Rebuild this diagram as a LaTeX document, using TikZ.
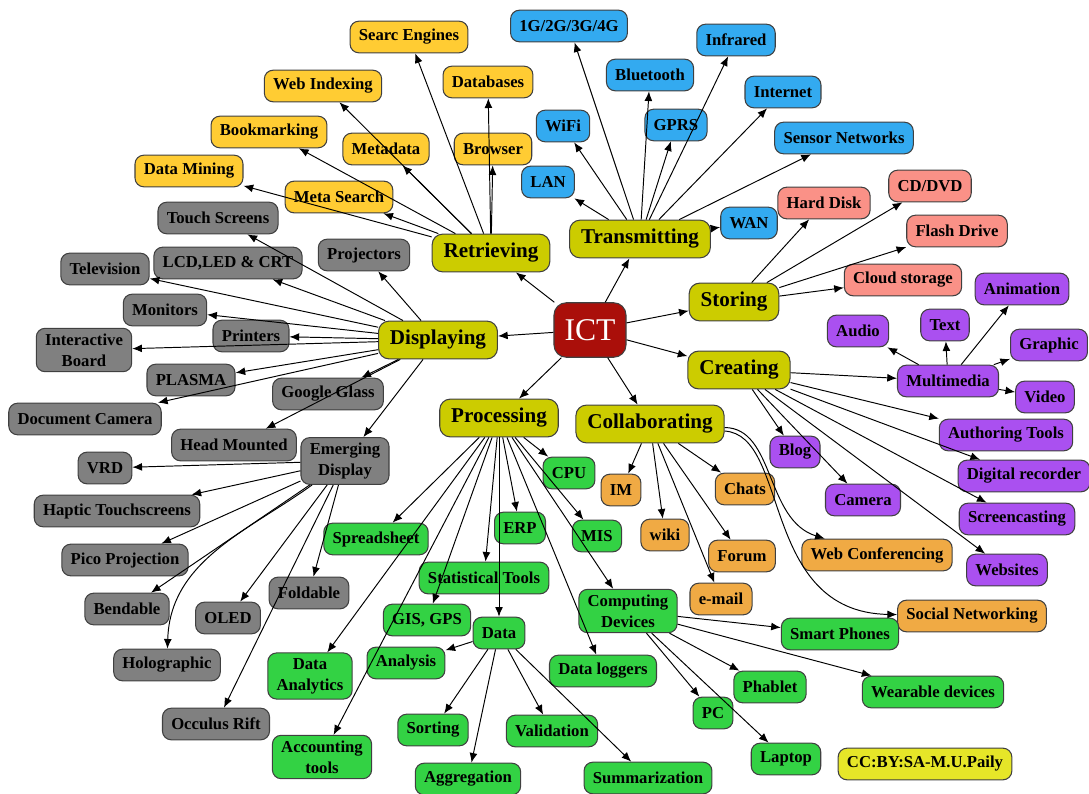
\documentclass[tikz,border=0pt]{standalone}
\usepackage{fontspec}
\setmainfont{Liberation Serif}
\usetikzlibrary{arrows.meta}
\definecolor{olivebg}{RGB}{204,204,0}
\definecolor{ictred}{RGB}{170,15,10}
\definecolor{yelbg}{RGB}{255,204,51}
\definecolor{bluebg}{RGB}{51,170,240}
\definecolor{pinkbg}{RGB}{250,145,135}
\definecolor{purpbg}{RGB}{170,80,240}
\definecolor{greybg}{RGB}{128,128,128}
\definecolor{greenbg}{RGB}{51,210,68}
\definecolor{orbg}{RGB}{240,170,68}
\definecolor{ccbg}{RGB}{230,230,40}
\tikzstyle{arrow} = [->, >={Latex[length=5.5pt,width=4.5pt]}, line width=0.55pt]
\tikzstyle{leaf} = [
    rectangle, rounded corners=5pt, draw=black!75, line width=0.6pt,
    minimum height=18pt, inner xsep=5pt, inner ysep=3pt, align=center,
    font=\bfseries\fontsize{9.5}{12}\selectfont]
\tikzstyle{mainbox} = [leaf, fill=olivebg, minimum height=21.5pt, inner xsep=6.5pt,
    rounded corners=6pt, font=\bfseries\fontsize{12}{14}\selectfont]
\tikzstyle{ictbox} = [leaf, fill=ictred, text=white, minimum width=41pt, minimum height=31pt,
    rounded corners=7pt, font=\fontsize{18}{20}\selectfont]
\tikzstyle{yelbox} = [leaf, fill=yelbg]
\tikzstyle{bluebox} = [leaf, fill=bluebg]
\tikzstyle{pinkbox} = [leaf, fill=pinkbg]
\tikzstyle{purpbox} = [leaf, fill=purpbg]
\tikzstyle{greybox} = [leaf, fill=greybg]
\tikzstyle{greenbox} = [leaf, fill=greenbg]
\tikzstyle{orbox} = [leaf, fill=orbg]
\tikzstyle{ccbox} = [leaf, fill=ccbg]

\begin{document}
\begin{tikzpicture}[x=0.02cm, y=-0.02cm]
\useasboundingbox (0,0) rectangle (1089,794);

% centre and branches
\node (ict) [ictbox] at (590,330) {ICT};
\node (retr) [mainbox] at (491,253) {Retrieving};
\node (trans) [mainbox] at (640,239) {Transmitting};
\node (stor) [mainbox] at (734,302) {Storing};
\node (creat) [mainbox] at (739,370) {Creating};
\node (collab) [mainbox] at (650,424) {Collaborating};
\node (proc) [mainbox] at (499,418) {Processing};
\node (disp) [mainbox] at (438,340) {Displaying};

% retrieving
\node (srch) [yelbox] at (409,37) {Searc Engines};
\node (webidx) [yelbox] at (323,86) {Web Indexing};
\node (dbase) [yelbox] at (488,82) {Databases};
\node (bookm) [yelbox] at (269,132) {Bookmarking};
\node (metad) [yelbox] at (386,149) {Metadata};
\node (brows) [yelbox] at (493,149) {Browser};
\node (dmine) [yelbox] at (189,171) {Data Mining};
\node (msrch) [yelbox] at (339,197) {Meta Search};

% transmitting
\node (gen) [bluebox] at (569,26) {1G/2G/3G/4G};
\node (infra) [bluebox] at (736,40) {Infrared};
\node (bluet) [bluebox] at (650,75) {Bluetooth};
\node (inet) [bluebox] at (783,92) {Internet};
\node (wifi) [bluebox] at (563,126) {WiFi};
\node (gprs) [bluebox] at (676,125) {GPRS};
\node (sensor) [bluebox] at (844,138) {Sensor Networks};
\node (lan) [bluebox] at (548,182) {LAN};
\node (wan) [bluebox] at (749,223) {WAN};

% storing
\node (hdisk) [pinkbox] at (824,203) {Hard Disk};
\node (cddvd) [pinkbox] at (930,186) {CD/DVD};
\node (flash) [pinkbox] at (957,231) {Flash Drive};
\node (cloud) [pinkbox] at (903,280) {Cloud storage};

% creating
\node (mmedia) [purpbox] at (948,381) {Multimedia};
\node (audio) [purpbox] at (858,331) {Audio};
\node (txt) [purpbox] at (945,325) {Text};
\node (anim) [purpbox] at (1022,289) {Animation};
\node (graphic) [purpbox] at (1049,345) {Graphic};
\node (video) [purpbox] at (1045,397) {Video};
\node (author) [purpbox] at (1006,435) {Authoring Tools};
\node (digrec) [purpbox] at (1024,476) {Digital recorder};
\node (blog) [purpbox] at (795,452) {Blog};
\node (camera) [purpbox] at (863,500) {Camera};
\node (scast) [purpbox] at (1017,519) {Screencasting};
\node (websites) [purpbox] at (1007,570) {Websites};

% collaborating
\node (im) [orbox] at (621,490) {IM};
\node (wiki) [orbox] at (665,535) {wiki};
\node (chats) [orbox] at (745,489) {Chats};
\node (forum) [orbox] at (742,556) {Forum};
\node (email) [orbox] at (721,599) {e-mail};
\node (webconf) [orbox] at (877,555) {Web Conferencing};
\node (social) [orbox] at (972,616) {Social Networking};

% processing
\node (cpu) [greenbox] at (569,473) {CPU};
\node (erp) [greenbox] at (520,528) {ERP};
\node (mis) [greenbox] at (597,536) {MIS};
\node (sheet) [greenbox] at (376,539) {Spreadsheet};
\node (stats) [greenbox] at (484,578) {Statistical Tools};
\node (compdev) [greenbox] at (628,611) {Computing\\Devices};
\node (gis) [greenbox] at (427,620) {GIS, GPS};
\node (data) [greenbox] at (499,633) {Data};
\node (analysis) [greenbox] at (406,663) {Analysis};
\node (dlog) [greenbox] at (603,671) {Data loggers};
\node (danal) [greenbox] at (310,676) {Data\\Analytics};
\node (acct) [greenbox] at (322,757) {Accounting\\tools};
\node (sorting) [greenbox] at (433,730) {Sorting};
\node (valid) [greenbox] at (552,731) {Validation};
\node (aggr) [greenbox] at (468,779) {Aggregation};
\node (summ) [greenbox] at (648,778) {Summarization};
\node (smart) [greenbox] at (840,634) {Smart Phones};
\node (phablet) [greenbox] at (770,687) {Phablet};
\node (wear) [greenbox] at (933,692) {Wearable devices};
\node (pc) [greenbox] at (713,713) {PC};
\node (laptop) [greenbox] at (786,759) {Laptop};

% displaying
\node (touch) [greybox] at (218,218) {Touch Screens};
\node (lcd) [greybox] at (228,263) {LCD,LED \& CRT};
\node (tv) [greybox] at (105,269) {Television};
\node (proj) [greybox] at (364,255) {Projectors};
\node (monit) [greybox] at (165,310) {Monitors};
\node (print) [greybox] at (251,336) {Printers};
\node (iboard) [greybox] at (84,350) {Interactive\\Board};
\node (plasma) [greybox] at (191,380) {PLASMA};
\node (gglass) [greybox] at (328,394) {Google Glass};
\node (doccam) [greybox] at (85,419) {Document Camera};
\node (hmount) [greybox] at (234,445) {Head Mounted};
\node (emerg) [greybox] at (345,461) {Emerging\\Display};
\node (vrd) [greybox] at (105,468) {VRD};
\node (haptic) [greybox] at (117,511) {Haptic Touchscreens};
\node (pico) [greybox] at (125,560) {Pico Projection};
\node (bend) [greybox] at (127,609) {Bendable};
\node (oled) [greybox] at (228,618) {OLED};
\node (fold) [greybox] at (309,593) {Foldable};
\node (holo) [greybox] at (167,665) {Holographic};
\node (rift) [greybox] at (216,724) {Occulus Rift};

\node (cc) [ccbox] at (925,764) {CC:BY:SA-M.U.Paily};

% connectors
\draw [arrow] (ict) -- (retr);
\draw [arrow] (ict) -- (trans);
\draw [arrow] (ict) -- (stor);
\draw [arrow] (ict) -- (creat);
\draw [arrow] (ict) -- (collab);
\draw [arrow] (ict) -- (proc);
\draw [arrow] (ict) -- (disp);

\draw [arrow] (retr) -- (srch);
\draw [arrow] (retr) -- (webidx);
\draw [arrow] (retr) -- (dbase);
\draw [arrow] (retr) -- (bookm);
\draw [arrow] (retr) -- (metad);
\draw [arrow] (retr) -- (brows);
\draw [arrow] (retr) -- (dmine);
\draw [arrow] (retr) -- (msrch);

\draw [arrow] (trans) -- (gen);
\draw [arrow] (trans) -- (infra);
\draw [arrow] (trans) -- (bluet);
\draw [arrow] (trans) -- (inet);
\draw [arrow] (trans) -- (wifi);
\draw [arrow] (trans) -- (gprs);
\draw [arrow] (trans) -- (sensor);
\draw [arrow] (trans) -- (lan);
\draw [arrow] (trans) -- (wan);

\draw [arrow] (stor) -- (hdisk);
\draw [arrow] (stor) -- (cddvd);
\draw [arrow] (stor) -- (flash);
\draw [arrow] (stor) -- (cloud);

\draw [arrow] (creat) -- (mmedia);
\draw [arrow] (creat) -- (author);
\draw [arrow] (creat) -- (digrec);
\draw [arrow] (creat) -- (blog);
\draw [arrow] (creat) -- (camera);
\draw [arrow] (creat) -- (scast);
\draw [arrow] (creat) -- (websites);
\draw [arrow] (mmedia) -- (audio);
\draw [arrow] (mmedia) -- (txt);
\draw [arrow] (mmedia) -- (anim);
\draw [arrow] (mmedia) -- (graphic);
\draw [arrow] (mmedia) -- (video);

\draw [arrow] (collab) -- (im);
\draw [arrow] (collab) -- (wiki);
\draw [arrow] (collab) -- (chats);
\draw [arrow] (collab) -- (forum);
\draw [arrow] (collab) -- (email);
\draw [arrow] ([yshift=-2pt]collab.east) .. controls (775,428) and (765,520) .. (webconf);
\draw [arrow] ([yshift=-4pt]collab.east) .. controls (790,435) and (760,612) .. (social);

\draw [arrow] (proc) -- (cpu);
\draw [arrow] (proc) -- (erp);
\draw [arrow] (proc) -- (mis);
\draw [arrow] (proc) -- (sheet);
\draw [arrow] (proc) -- (stats);
\draw [arrow] (proc) -- (compdev);
\draw [arrow] (proc) -- (gis);
\draw [arrow] (proc) -- (data);
\draw [arrow] (proc) -- (dlog);
\draw [arrow] (proc) -- (danal);
\draw [arrow] (proc) -- (acct);
\draw [arrow] (data) -- (analysis);
\draw [arrow] (data) -- (sorting);
\draw [arrow] (data) -- (aggr);
\draw [arrow] (data) -- (valid);
\draw [arrow] (data) -- (summ);
\draw [arrow] (compdev) -- (smart);
\draw [arrow] (compdev) -- (phablet);
\draw [arrow] (compdev) -- (wear);
\draw [arrow] (compdev) -- (pc);
\draw [arrow] (compdev) -- (laptop);

\draw [arrow] (disp) -- (touch);
\draw [arrow] (disp) -- (lcd);
\draw [arrow] (disp) -- (tv);
\draw [arrow] (disp) -- (proj);
\draw [arrow] (disp) -- (monit);
\draw [arrow] (disp) -- (print);
\draw [arrow] (disp) -- (iboard);
\draw [arrow] (disp) -- (plasma);
\draw [arrow] (disp) -- (doccam);
\draw [arrow] (disp) -- (gglass);
\draw [arrow] (disp) -- (hmount);
\draw [arrow] (disp) -- (emerg);
\draw [arrow] (emerg) -- (vrd);
\draw [arrow] (emerg) -- (haptic);
\draw [arrow] (emerg) -- (pico);
\draw [arrow] (emerg) -- (bend);
\draw [arrow] (emerg) .. controls (250,530) and (170,560) .. (holo);
\draw [arrow] (emerg) -- (oled);
\draw [arrow] (emerg) -- (fold);
\draw [arrow] (emerg) -- (rift);
\end{tikzpicture}
\end{document}
